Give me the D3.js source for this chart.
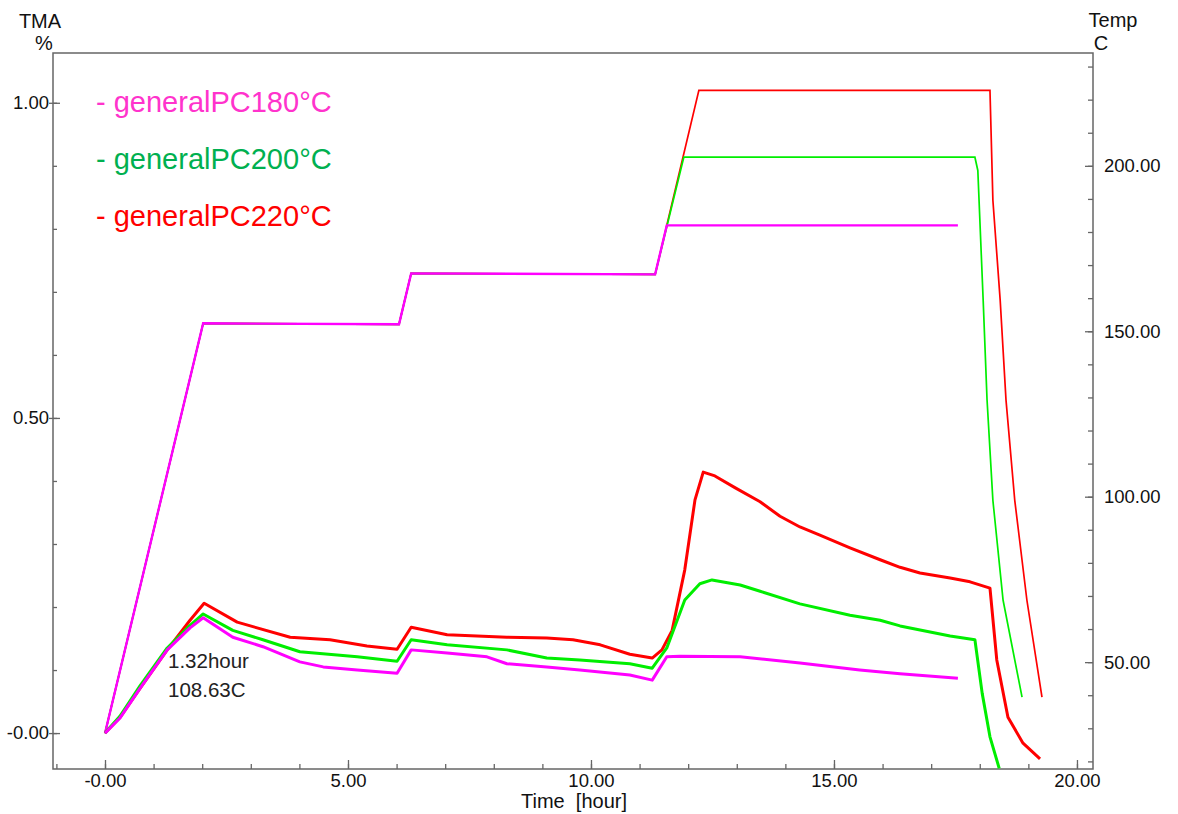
<!DOCTYPE html>
<html>
<head>
<meta charset="utf-8">
<script src="https://cdn.jsdelivr.net/npm/d3@7"></script>
<style>
  body { margin: 0; background: #fff; }
  text { font-family: "Liberation Sans", Arial, sans-serif; }
</style>
</head>
<body>
<svg width="1178" height="814"></svg>
<script>
// ---- data ----
const seriesNames = ["generalPC180°C", "generalPC200°C", "generalPC220°C"];

// TMA (%) vs time (hour)
const tmaTime180 = [0, 0.31, 0.72, 1.28, 1.75, 2.02, 2.63, 3.25, 4.01, 4.49, 5.19, 6.01, 6.30, 7.04, 7.86, 8.27, 9.09, 9.77, 10.80, 11.26, 11.56, 11.83, 13.07, 14.30, 15.53, 16.36, 17.55];
const tma180     = [0, 0.024, 0.071, 0.132, 0.167, 0.183, 0.152, 0.137, 0.113, 0.105, 0.100, 0.095, 0.132, 0.127, 0.121, 0.110, 0.105, 0.100, 0.092, 0.084, 0.121, 0.122, 0.121, 0.111, 0.100, 0.094, 0.087];

const tmaTime200 = [0, 0.31, 0.72, 1.28, 1.75, 2.02, 2.63, 3.25, 4.01, 5.19, 6.01, 6.30, 7.04, 8.27, 9.09, 9.77, 10.80, 11.26, 11.56, 11.93, 12.24, 12.49, 13.07, 13.48, 14.30, 15.33, 15.95, 16.36, 17.39, 17.90, 18.05, 18.21, 18.40];
const tma200     = [0, 0.027, 0.075, 0.135, 0.171, 0.189, 0.163, 0.148, 0.129, 0.121, 0.114, 0.148, 0.140, 0.132, 0.119, 0.116, 0.110, 0.103, 0.135, 0.211, 0.237, 0.243, 0.235, 0.225, 0.205, 0.187, 0.179, 0.170, 0.154, 0.148, 0.063, -0.006, -0.056];

const tmaTime220 = [0, 0.31, 0.72, 1.28, 1.75, 2.04, 2.72, 3.81, 4.63, 5.39, 6.01, 6.30, 7.04, 8.27, 9.09, 9.63, 10.19, 10.80, 11.26, 11.46, 11.67, 11.93, 12.14, 12.31, 12.55, 12.97, 13.48, 13.89, 14.30, 14.71, 15.33, 15.95, 16.36, 16.77, 17.39, 17.80, 18.21, 18.35, 18.58, 18.89, 19.24];
const tma220     = [0, 0.025, 0.071, 0.132, 0.179, 0.206, 0.176, 0.152, 0.148, 0.138, 0.133, 0.168, 0.156, 0.152, 0.151, 0.148, 0.140, 0.125, 0.119, 0.132, 0.163, 0.259, 0.370, 0.414, 0.408, 0.389, 0.367, 0.344, 0.327, 0.314, 0.294, 0.275, 0.263, 0.254, 0.246, 0.240, 0.230, 0.116, 0.025, -0.016, -0.041];

// Temperature (C) vs time (hour)
const tempTime180 = [0, 2.02, 6.05, 6.30, 11.32, 11.56, 17.55];
const temp180     = [28.5, 152.4, 152.1, 167.5, 167.2, 182.0, 182.0];

const tempTime200 = [0, 2.02, 6.05, 6.30, 11.32, 11.91, 17.90, 17.96, 18.07, 18.15, 18.27, 18.48, 18.87];
const temp200     = [28.5, 152.4, 152.1, 167.5, 167.2, 202.6, 202.6, 198.6, 159.4, 129.2, 98.9, 68.7, 39.4];

const tempTime220 = [0, 2.02, 6.05, 6.30, 11.32, 12.22, 18.21, 18.27, 18.42, 18.54, 18.72, 18.97, 19.28];
const temp220     = [28.5, 152.4, 152.1, 167.5, 167.2, 222.8, 222.8, 189.6, 159.4, 129.2, 98.9, 68.7, 39.4];

const xTicks = [0, 5, 10, 15, 20];
const xTickLabels = ["-0.00", "5.00", "10.00", "15.00", "20.00"];
const yTicks = [0, 0.5, 1.0];
const yTickLabels = ["-0.00", "0.50", "1.00"];
const tTicks = [50, 100, 150, 200];
const tTickLabels = ["50.00", "100.00", "150.00", "200.00"];

const annotation = ["1.32hour", "108.63C"];

// ---- layout ----
const svg = d3.select("svg"),
      margin = { top: 53, right: 85, bottom: 45, left: 53 },
      width = +svg.attr("width") - margin.left - margin.right,
      height = +svg.attr("height") - margin.top - margin.bottom;

const lineColors = ["#ff00ff", "#00ee00", "#ff0000"];
const textColors = ["#ff33cc", "#00b050", "#ff0000"];
const axisColor = "#666";

const chart = svg.append("g")
    .attr("transform", `translate(${margin.left},${margin.top})`);

const x = d3.scaleLinear().domain([-1.07, 20.33]).range([0, width]);
const y = d3.scaleLinear().domain([-0.057, 1.079]).range([height, 0]);
const yT = d3.scaleLinear().domain([17.7, 234.1]).range([height, 0]);

chart.append("defs").append("clipPath").attr("id", "clip")
    .append("rect").attr("width", width).attr("height", height);

// bottom axis: minor ticks every hour, inward
chart.append("g")
    .attr("transform", `translate(0,${height})`)
    .call(d3.axisTop(x).tickValues(d3.range(-1, 21, 1)).tickSize(5).tickFormat(""))
    .call(g => g.select(".domain").remove());
chart.append("g")
    .attr("transform", `translate(0,${height})`)
    .call(d3.axisBottom(x).tickValues(xTicks).tickSize(0).tickPadding(5)
        .tickFormat((d, i) => xTickLabels[i]))
    .call(g => g.select(".domain").remove())
    .call(g => g.selectAll(".tick line").attr("y1", 0).attr("y2", -9));

// left axis
chart.append("g")
    .call(d3.axisRight(y).tickValues(d3.range(0, 1.05, 0.1)).tickSize(4).tickFormat(""))
    .call(g => g.select(".domain").remove());
chart.append("g")
    .call(d3.axisLeft(y).tickValues(yTicks).tickSize(0).tickPadding(4)
        .tickFormat((d, i) => yTickLabels[i]))
    .call(g => g.select(".domain").remove())
    .call(g => g.selectAll(".tick line").attr("x1", -4).attr("x2", 7));

// right axis
chart.append("g")
    .attr("transform", `translate(${width},0)`)
    .call(d3.axisLeft(yT).tickValues(d3.range(20, 231, 10)).tickSize(5).tickFormat(""))
    .call(g => g.select(".domain").remove());
chart.append("g")
    .attr("transform", `translate(${width},0)`)
    .call(d3.axisRight(yT).tickValues(tTicks).tickSize(0).tickPadding(11)
        .tickFormat((d, i) => tTickLabels[i]))
    .call(g => g.select(".domain").remove())
    .call(g => g.selectAll(".tick line").attr("x1", -8).attr("x2", 0));

chart.selectAll(".tick line").attr("stroke", axisColor).attr("stroke-width", 1.3);
chart.selectAll(".tick text")
    .attr("fill", "#111")
    .style("font-size", "18.5px")
    .style("font-family", "'Liberation Sans', Arial, sans-serif");

// frame
chart.append("rect")
    .attr("width", width).attr("height", height)
    .attr("fill", "none").attr("stroke", axisColor).attr("stroke-width", 1.5);

// curves
const plot = chart.append("g").attr("clip-path", "url(#clip)");

const tmaLine = d3.line().x(d => x(d[0])).y(d => y(d[1]));
const tempLine = d3.line().x(d => x(d[0])).y(d => yT(d[1]));

const tempSeries = [
    d3.zip(tempTime180, temp180),
    d3.zip(tempTime200, temp200),
    d3.zip(tempTime220, temp220)
];
const tmaSeries = [
    d3.zip(tmaTime180, tma180),
    d3.zip(tmaTime200, tma200),
    d3.zip(tmaTime220, tma220)
];

// draw 220 first, 180 last (magenta on top)
[2, 1, 0].forEach(i => {
    plot.append("path")
        .datum(tempSeries[i])
        .attr("d", tempLine)
        .attr("fill", "none")
        .attr("stroke", lineColors[i])
        .attr("stroke-width", i === 0 ? 2.4 : 1.7);
});
[2, 1, 0].forEach(i => {
    plot.append("path")
        .datum(tmaSeries[i])
        .attr("d", tmaLine)
        .attr("fill", "none")
        .attr("stroke", lineColors[i])
        .attr("stroke-width", 3)
        .attr("stroke-linejoin", "round");
});

// legend
seriesNames.forEach((name, i) => {
    chart.append("text")
        .attr("x", 96 - margin.left)
        .attr("y", 112 - margin.top + i * 57)
        .attr("fill", textColors[i])
        .style("font-size", "29px")
        .text("- " + name);
});

// annotation
annotation.forEach((s, i) => {
    chart.append("text")
        .attr("x", 168 - margin.left)
        .attr("y", 668 - margin.top + i * 29)
        .attr("fill", "#222")
        .style("font-size", "20.5px")
        .text(s);
});

// axis titles
const titles = [
    { s: "TMA", x: 40, y: 28 },
    { s: "%", x: 44, y: 50 },
    { s: "Temp", x: 1113, y: 27 },
    { s: "C", x: 1101, y: 50 },
    { s: "Time\u00a0\u00a0[hour]", x: 574, y: 808 }
];
titles.forEach(d => {
    svg.append("text").attr("x", d.x).attr("y", d.y).attr("text-anchor", "middle")
        .style("font-size", "20px").attr("fill", "#111").text(d.s);
});
</script>
</body>
</html>
